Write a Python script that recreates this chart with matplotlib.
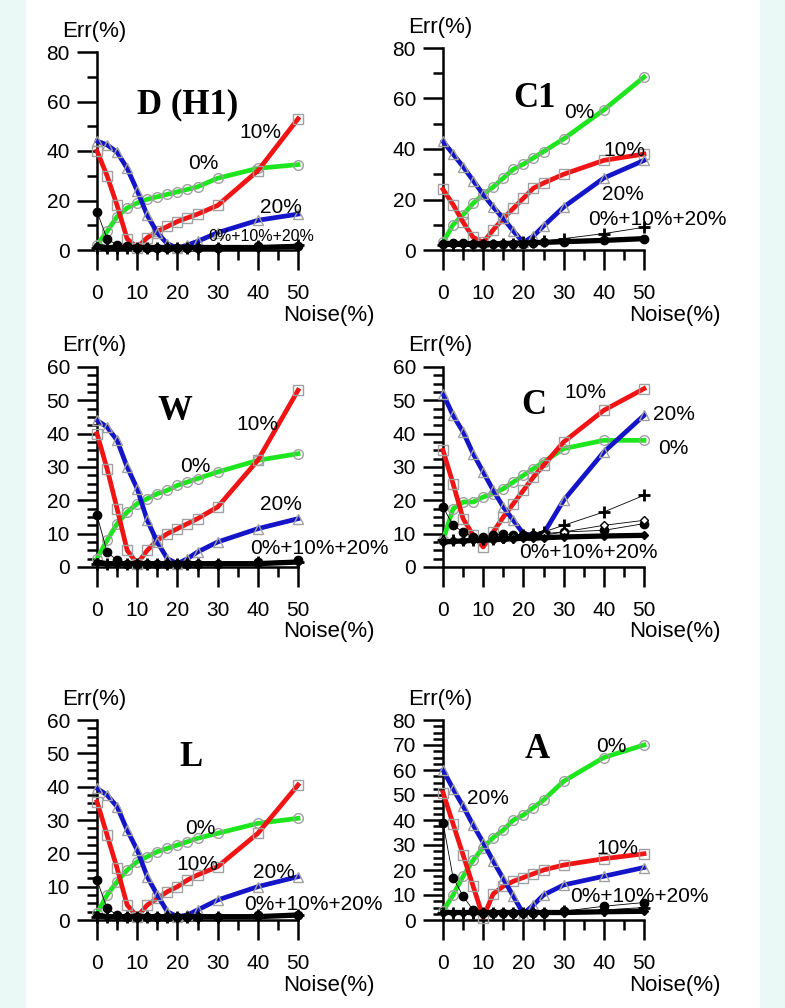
import matplotlib
matplotlib.use("Agg")
import matplotlib.pyplot as plt
from matplotlib.patches import Rectangle
from matplotlib.ticker import MultipleLocator

plt.rcParams["font.family"] = ["Liberation Sans", "DejaVu Sans"]

# noise levels (x axis) shared by all panels
noise = [0, 2.5, 5, 7.5, 10, 12.5, 15, 17.5, 20, 22.5, 25, 30, 40, 50]

# ---- D (H1) ----
d_green = [2, 7.5, 13.5, 17, 19, 20.5, 21.5, 22.5, 23.5, 24.5, 25.5, 29, 33, 34.5]
d_red = [40, 30, 18, 4.5, 1, 5, 7.5, 9.5, 11.5, 13, 14.5, 18, 32, 53]
d_blue = [44, 42.5, 39.5, 33, 24, 14, 7, 2.5, 0.8, 2, 3.5, 7, 12, 14.5]
d_base = [1.5, 1, 1, 1, 1, 1, 1, 1, 1, 1, 1, 1, 1, 1.5]
d_dot = [15.5, 4.5, 2, 1.5, 1, 1, 1, 1, 1, 1, 1, 1, 1.5, 1.5]
d_plus = [1, 1, 1, 1, 1, 1, 1, 1, 1, 1, 1, 1, 1.5, 2]

# ---- C1 ----
c1_green = [3, 10, 14, 18.5, 22, 25, 28.5, 32, 34, 36.5, 39, 44, 55.5, 68.5]
c1_red = [24, 18, 11, 5, 3, 8, 12.5, 16.5, 20.5, 24.5, 26.5, 30, 35.5, 38]
c1_blue = [43, 38, 33, 27.5, 22, 17, 12.5, 7.5, 3, 5.5, 9.5, 17, 28.5, 35.5]
c1_base = [2.5, 2.5, 2.5, 2.5, 2.5, 2.5, 2.5, 2.7, 2.8, 2.9, 3, 3.3, 3.8, 4.5]
c1_dot = [2.5, 2.8, 2.8, 2.5, 2.5, 2.5, 2.5, 2.5, 2.5, 2.8, 3, 3.3, 3.8, 4.5]
c1_plus = [2, 2, 2, 2, 2, 2, 2.5, 2.5, 3, 3, 3.5, 4.5, 6.5, 9]

# ---- W ----
w_green = [2.5, 8, 13, 16.5, 19, 20.5, 22, 23, 24.5, 25.5, 26.5, 28.5, 32, 34]
w_red = [40, 29.5, 17.5, 5, 1, 5, 8, 10, 11.5, 13, 14.5, 18, 32, 53]
w_blue = [44, 42, 38, 30, 23.5, 14, 7.5, 2.5, 1, 2.5, 4.5, 7.5, 11.5, 14.5]
w_base = [1.5, 1, 1, 1, 1, 1, 1, 1, 1, 1, 1, 1, 1, 1.5]
w_dot = [15.5, 4.5, 2, 1, 1, 1, 1, 1, 1, 1, 1, 1, 1.5, 2]
w_plus = [1, 1, 1, 1, 1, 1, 1, 1, 1, 1, 1, 1, 1.5, 1.5]

# ---- C ----
c_green = [8, 17.5, 19.5, 19.5, 21, 22, 23.5, 25.5, 27.5, 29.5, 31.5, 35.5, 38, 38]
c_red = [35, 25, 14.5, 9.5, 6, 10.5, 15, 19, 23, 27, 30.5, 37.5, 47, 53.5]
c_blue = [52, 45.5, 40.5, 34, 28.5, 23, 18, 14, 10, 9.5, 10, 20, 34.5, 45.5]
c_base = [7.5, 7.7, 7.8, 8, 8, 8.2, 8.3, 8.5, 8.6, 8.7, 8.8, 9, 9.3, 9.5]
c_dot = [18, 12.5, 10.5, 9, 9, 9.5, 10, 9.5, 9.5, 9.5, 10, 10.5, 11, 13]
c_plus = [8, 8, 8, 8, 8.5, 8.5, 9, 9, 9.5, 10, 10.5, 12.5, 16.5, 21.5]
c_diam = [8, 8, 8, 8, 8.5, 8.5, 8.5, 9, 9, 9, 9.5, 10.5, 12.5, 14]

# ---- L ----
l_green = [2, 7.5, 11.5, 15, 17.5, 19, 20.5, 21.5, 22.5, 23.5, 24.5, 26, 29, 30.5]
l_red = [35.5, 25.5, 15.5, 4.5, 1, 4.5, 6.5, 8.5, 10, 12, 13.5, 16, 26, 40.5]
l_blue = [39.5, 37.5, 34, 27, 21, 13, 7.5, 2.5, 1, 1.5, 3, 6, 10, 13]
l_base = [1.5, 1, 1, 1, 1, 1, 1, 1, 1, 1, 1, 1, 1, 1.5]
l_dot = [12, 3.5, 1.5, 1, 1, 1, 1, 1, 1, 1, 1, 1, 1.5, 1.5]
l_plus = [1, 1, 1, 1, 1, 1, 1, 1, 1, 1, 1, 1, 1.5, 1.5]

# ---- A ----
a_green = [3.5, 10, 17.5, 24, 29, 33, 36, 40, 42, 45, 48, 55.5, 65, 70]
a_red = [51, 38.5, 26, 13.5, 1, 10.5, 13.5, 15.5, 17, 18.5, 20, 22, 24.5, 26.5]
a_blue = [60, 52.5, 45.5, 38, 31, 23.5, 16.5, 9.5, 2.5, 6, 10, 14, 17.5, 21]
a_base = [3, 3, 3, 3, 3, 3, 3, 3, 3, 3, 3, 3, 3.3, 3.5]
a_dot = [39, 17, 9.5, 4, 3, 3, 3, 3, 3, 3, 3, 3.5, 5.5, 7]
a_plus = [3, 3, 3, 3, 3, 3, 3, 3, 3, 3, 3, 3.5, 4, 5]

W, H = 785, 1008
fig = plt.figure(figsize=(W / 100, H / 100), dpi=100)
fig.patch.set_facecolor("white")
# light mint strips on both sides
for x0, x1 in [(0, 26), (760, W)]:
    fig.patches.append(Rectangle((x0 / W, 0), (x1 - x0) / W, 1,
                                 transform=fig.transFigure,
                                 facecolor="#EAF8F6", edgecolor="none",
                                 zorder=-10))

GREEN = "#1EE61E"
RED = "#F01414"
BLUE = "#1414C8"
GREY = "#A0A0A0"


def panel(left, right, top, bottom, ymax, ymaj, ymin,
          green, red, blue, base, dot, plus, title, title_xy, labels,
          diam=None):
    ax = fig.add_axes([left / W, 1 - bottom / H, (right - left) / W,
                       (bottom - top) / H])
    ax.set_facecolor("none")
    ax.set_xlim(0, 50)
    ax.set_ylim(0, ymax)
    for s in ["top", "right"]:
        ax.spines[s].set_visible(False)
    for s in ["left", "bottom"]:
        ax.spines[s].set_linewidth(1.8)
    ax.xaxis.set_major_locator(MultipleLocator(10))
    ax.xaxis.set_minor_locator(MultipleLocator(5))
    ax.yaxis.set_major_locator(MultipleLocator(ymaj))
    ax.yaxis.set_minor_locator(MultipleLocator(ymin))
    ax.tick_params(axis="x", which="major", length=14.5, width=1.8, pad=10,
                   labelsize=15)
    ax.tick_params(axis="x", which="minor", length=7, width=1.8)
    ax.tick_params(axis="y", which="major", length=14.5, width=1.8, pad=5,
                   labelsize=15)
    ax.tick_params(axis="y", which="minor", length=7, width=1.8)

    mk = dict(markerfacecolor="none", markeredgecolor=GREY,
              markeredgewidth=1, markersize=7, clip_on=False)
    ax.plot(noise, green, color=GREEN, lw=3.4, marker="o", zorder=3, **mk)
    ax.plot(noise, red, color=RED, lw=3.4, marker="s", zorder=3, **mk)
    ax.plot(noise, blue, color=BLUE, lw=3.4, marker="^", zorder=3, **mk)

    # 0%+10%+20% series
    ax.plot(noise, dot, color="black", lw=0.6, marker="o", markersize=6,
            clip_on=False, zorder=4)
    ax.plot(noise, plus, color="black", lw=0.6, marker="+", markersize=9,
            markeredgewidth=2, clip_on=False, zorder=4)
    if diam is not None:
        ax.plot(noise, diam, color="black", lw=0.6, marker="D",
                markersize=4.5, markerfacecolor="white", clip_on=False,
                zorder=4)
    ax.plot(noise, base, color="black", lw=3.8, marker="D", markersize=4.5,
            clip_on=False, zorder=5)

    ax.text(title_xy[0], title_xy[1], title, family="Liberation Serif",
            fontweight="bold", fontsize=25, ha="center", va="center")
    for txt, x, y, fs in labels:
        ax.text(x, y, txt, fontsize=fs, ha="center", va="center", zorder=6,
                clip_on=False)

    fig.text((left - 35) / W, 1 - (top - 21) / H, "Err(%)", fontsize=16,
             ha="left", va="center")
    fig.text((right + 77) / W, 1 - (bottom + 65) / H, "Noise(%)",
             fontsize=16, ha="right", va="center")
    return ax


panel(97, 298, 52, 250, 80, 20, 10, d_green, d_red, d_blue,
      d_base, d_dot, d_plus, "D (H1)", (22.5, 58.5),
      [("10%", 40.75, 47.3, 15), ("0%", 26.5, 35, 15),
       ("20%", 45.75, 17, 15), ("0%+10%+20%", 40.75, 5.3, 11.5)])

panel(443, 644, 48, 250, 80, 20, 10, c1_green, c1_red, c1_blue,
      c1_base, c1_dot, c1_plus, "C1", (22.8, 60),
      [("0%", 34, 54.3, 15), ("10%", 45, 39.6, 15),
       ("20%", 44.75, 21.8, 15), ("0%+10%+20%", 53.25, 11.9, 15)])

panel(97, 298, 367, 567, 60, 10, 2.5, w_green, w_red, w_blue,
      w_base, w_dot, w_plus, "W", (19.25, 46.5),
      [("10%", 40, 42.6, 15), ("0%", 24.5, 30, 15),
       ("20%", 45.75, 18.6, 15), ("0%+10%+20%", 55.25, 5.7, 15)])

panel(443, 644, 367, 567, 60, 10, 2.5, c_green, c_red, c_blue,
      c_base, c_dot, c_plus, "C", (22.5, 48.3),
      [("10%", 35.5, 52.2, 15), ("20%", 57.5, 45.6, 15),
       ("0%", 57.25, 35.7, 15), ("0%+10%+20%", 36.25, 4.2, 15)],
      diam=c_diam)

panel(97, 298, 720, 920, 60, 10, 2.5, l_green, l_red, l_blue,
      l_base, l_dot, l_plus, "L", (23.25, 48.9),
      [("0%", 25.75, 27.6, 15), ("10%", 25, 16.5, 15),
       ("20%", 44, 14.4, 15), ("0%+10%+20%", 53.75, 4.5, 15)])

panel(443, 644, 720, 920, 80, 10, 2.5, a_green, a_red, a_blue,
      a_base, a_dot, a_plus, "A", (23.5, 68),
      [("0%", 41.75, 69.2, 15), ("20%", 11.25, 48.8, 15),
       ("10%", 43.5, 28.8, 15), ("0%+10%+20%", 48.75, 9.2, 15)])

fig.savefig("out.png", dpi=100, facecolor=fig.get_facecolor())
